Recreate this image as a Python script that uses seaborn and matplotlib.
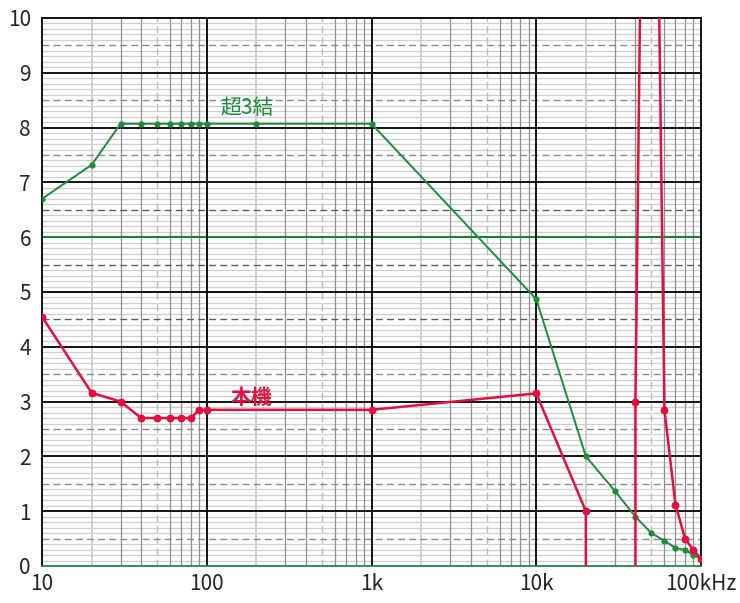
import numpy as np
import pandas as pd
import matplotlib
matplotlib.use('Agg')
import matplotlib.pyplot as plt
import seaborn as sns
from matplotlib.ticker import FixedLocator, NullFormatter

# data (x in Hz)
green_x = [10, 20, 30, 40, 50, 60, 70, 80, 90, 100, 200, 1000,
           10000, 20000, 30000, 40000, 50000, 60000, 70000, 80000, 90000, 100000]
green_y = [6.7, 7.32, 8.07, 8.07, 8.07, 8.07, 8.07, 8.07, 8.07, 8.07, 8.07, 8.07,
           4.87, 2.0, 1.37, 0.9, 0.6, 0.46, 0.33, 0.29, 0.2, 0.13]

red1_x = [10, 20, 30, 40, 50, 60, 70, 80, 90, 100, 1000, 10000, 20000, 20000]
red1_y = [4.55, 3.16, 3.0, 2.7, 2.7, 2.7, 2.7, 2.7, 2.85, 2.85, 2.85, 3.15, 1.0, 0.0]
red2_x = [40000, 40000, 42600]
red2_y = [0.0, 3.0, 10.0]
red3_x = [55800, 60000, 70000, 80000, 90000, 100000]
red3_y = [10.0, 2.85, 1.12, 0.5, 0.29, 0.13]

xticks = [10, 100, 1000, 10000, 100000]
xtick_labels = ['10', '100', '1k', '10k', '100kHz']
yticks = list(range(0, 11))

GREEN = '#1f8b3b'
RED = '#e3103f'

sns.set_style('white')
plt.rcParams['font.family'] = ['Noto Sans CJK JP', 'DejaVu Sans']

red = pd.DataFrame({
    'x': red1_x + red2_x + red3_x,
    'y': red1_y + red2_y + red3_y,
    'seg': [1] * len(red1_x) + [2] * len(red2_x) + [3] * len(red3_x),
})
green = pd.DataFrame({'x': green_x, 'y': green_y})

fig = plt.figure(figsize=(7.4, 6.03), dpi=100)
ax = fig.add_axes([42 / 740, 1 - 566 / 603, 659 / 740, 548 / 603])
ax.set_xscale('log')
ax.set_xlim(10, 100000)
ax.set_ylim(0, 10)

# background grid: fine horizontal lines
for v in np.arange(0.1, 10, 0.1):
    if abs(v * 2 - round(v * 2)) < 1e-6:
        continue
    ax.axhline(v, color='#cfcfcf', lw=0.9, zorder=0)
# half lines
for v in np.arange(0.5, 10, 1.0):
    c = '#4f6a52' if v in (4.5, 5.5, 6.5) else '#8a8a8a'
    ax.axhline(v, color=c, lw=1.0, ls=(0, (5, 3)), zorder=1)
# vertical minor lines
for dec in [10, 100, 1000, 10000]:
    for m in range(2, 10):
        if m == 2:
            ax.axvline(dec * m, color='#cccccc', lw=1.3, zorder=0)
        elif m == 5:
            ax.axvline(dec * m, color='#bdbdbd', lw=1.0, ls=(0, (5, 3)), zorder=0)
        else:
            ax.axvline(dec * m, color='#8f8f8f', lw=0.9, zorder=0)
# major lines
for v in range(1, 10):
    if v == 6:
        ax.axhline(v, color='#17803a', lw=1.5, zorder=1)
    else:
        ax.axhline(v, color='black', lw=1.3, zorder=1)
for d in [100, 1000, 10000]:
    ax.axvline(d, color='black', lw=1.3, zorder=1)

sns.lineplot(data=green, x='x', y='y', color=GREEN, lw=1.4, marker='o',
             markersize=4.5, markeredgewidth=0, ax=ax, zorder=3)
sns.lineplot(data=red, x='x', y='y', units='seg', estimator=None, sort=False,
             color=RED, lw=1.8, ax=ax, zorder=4)
pts = red[(red['y'] > 0) & (red['y'] < 10)]
sns.scatterplot(data=pts, x='x', y='y', color=RED, s=32, linewidth=0,
                ax=ax, zorder=5)

ax.text(175, 8.36, '超3結', color=GREEN, fontsize=15, ha='center', va='center')
ax.text(186, 3.08, '本機', color=RED, fontsize=15, ha='center', va='center',
        fontweight='bold')

ax.xaxis.set_major_locator(FixedLocator(xticks))
ax.set_xticklabels(xtick_labels)
ax.xaxis.set_minor_formatter(NullFormatter())
ax.set_yticks(yticks)
ax.tick_params(axis='both', which='both', length=0, labelsize=15)
ax.tick_params(axis='y', pad=8)
ax.tick_params(axis='x', pad=5)
ax.set_xlabel('')
ax.set_ylabel('')
for s in ax.spines.values():
    s.set_color('black')
    s.set_linewidth(1.3)
ax.spines['bottom'].set_color(GREEN)

fig.savefig('out.png', dpi=100)
